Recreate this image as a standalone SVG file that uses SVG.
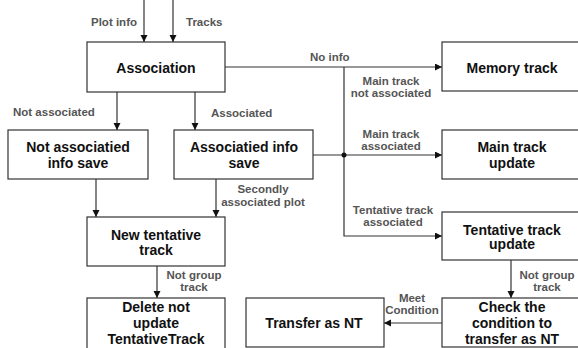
<svg xmlns="http://www.w3.org/2000/svg" width="578" height="348" viewBox="0 0 578 348">
<style>
.box{fill:#fff;stroke:#333;stroke-width:1.2}
.nt{font-family:"Liberation Sans",Arial,sans-serif;font-weight:bold;font-size:14px;fill:#111;text-anchor:middle}
.lb{font-family:"Liberation Sans",Arial,sans-serif;font-weight:bold;font-size:11.5px;fill:#555}
.c{text-anchor:middle}
.ln{fill:none;stroke:#333;stroke-width:1.2}
</style>
<defs>
<marker id="ah" markerUnits="userSpaceOnUse" markerWidth="8" markerHeight="8" refX="7" refY="3.5" orient="auto">
<path d="M0,0 L7,3.5 L0,7 z" fill="#111"/>
</marker>
</defs>
<rect width="578" height="348" fill="#fff"/>
<g id="connectors">
<path class="ln" d="M144,0 V42" marker-end="url(#ah)"/>
<path class="ln" d="M173,0 V42" marker-end="url(#ah)"/>
<path class="ln" d="M117,92 V130" marker-end="url(#ah)"/>
<path class="ln" d="M195,92 V130" marker-end="url(#ah)"/>
<path class="ln" d="M225,67 H442" marker-end="url(#ah)"/>
<path class="ln" d="M344,67 V236 H442" marker-end="url(#ah)"/>
<path class="ln" d="M313,155 H442" marker-end="url(#ah)"/>
<circle cx="344" cy="155" r="2.5" fill="#111"/>
<path class="ln" d="M96,179 V217" marker-end="url(#ah)"/>
<path class="ln" d="M216,179 V217" marker-end="url(#ah)"/>
<path class="ln" d="M157,266 V298" marker-end="url(#ah)"/>
<path class="ln" d="M511,260 V298" marker-end="url(#ah)"/>
<path class="ln" d="M442,323 H384" marker-end="url(#ah)"/>
<text class="lb" x="137" y="26" text-anchor="end">Plot info</text>
<text class="lb" x="186" y="26">Tracks</text>
<text class="lb" x="310" y="61">No info</text>
<text class="lb c" x="391" y="85">Main track</text>
<text class="lb c" x="391" y="97">not associated</text>
<text class="lb c" x="391" y="138">Main track</text>
<text class="lb c" x="391" y="150">associated</text>
<text class="lb c" x="393" y="214">Tentative track</text>
<text class="lb c" x="393" y="226">associated</text>
<text class="lb" x="13" y="116">Not associated</text>
<text class="lb" x="211" y="117">Associated</text>
<text class="lb c" x="263" y="193">Secondly</text>
<text class="lb c" x="263" y="206">associated plot</text>
<text class="lb c" x="194" y="279">Not group</text>
<text class="lb c" x="194" y="291">track</text>
<text class="lb c" x="547" y="279">Not group</text>
<text class="lb c" x="547" y="291">track</text>
<text class="lb c" x="412" y="302">Meet</text>
<text class="lb c" x="412" y="314">Condition</text>
</g>
<g id="association"><rect class="box" x="87" y="42" width="138" height="50"/><text class="nt" x="156" y="73">Association</text></g>
<g id="memory"><rect class="box" x="442" y="42" width="145" height="49"/><text class="nt" x="512" y="73">Memory track</text></g>
<g id="notassoc"><rect class="box" x="8" y="130" width="140" height="49"/><text class="nt" x="78" y="152">Not associatied</text><text class="nt" x="78" y="168">info save</text></g>
<g id="assoc"><rect class="box" x="174" y="130" width="139" height="49"/><text class="nt" x="244" y="152">Associatied info</text><text class="nt" x="244" y="168">save</text></g>
<g id="mainupdate"><rect class="box" x="442" y="130" width="145" height="49"/><text class="nt" x="512" y="152">Main track</text><text class="nt" x="512" y="168">update</text></g>
<g id="newtent"><rect class="box" x="87" y="217" width="138" height="49"/><text class="nt" x="156" y="240">New tentative</text><text class="nt" x="156" y="255">track</text></g>
<g id="tentupdate"><rect class="box" x="442" y="212" width="145" height="48"/><text class="nt" x="512" y="234.5">Tentative track</text><text class="nt" x="512" y="249">update</text></g>
<g id="delete"><rect class="box" x="87" y="298" width="138" height="60"/><text class="nt" x="156" y="312">Delete not</text><text class="nt" x="156" y="328">update</text><text class="nt" x="156" y="344">TentativeTrack</text></g>
<g id="transfer"><rect class="box" x="246" y="298" width="138" height="49"/><text class="nt" x="314" y="328">Transfer as NT</text></g>
<g id="check"><rect class="box" x="442" y="298" width="145" height="49"/><text class="nt" x="512" y="312">Check the</text><text class="nt" x="512" y="328">condition to</text><text class="nt" x="512" y="344">transfer as NT</text></g>
</svg>
